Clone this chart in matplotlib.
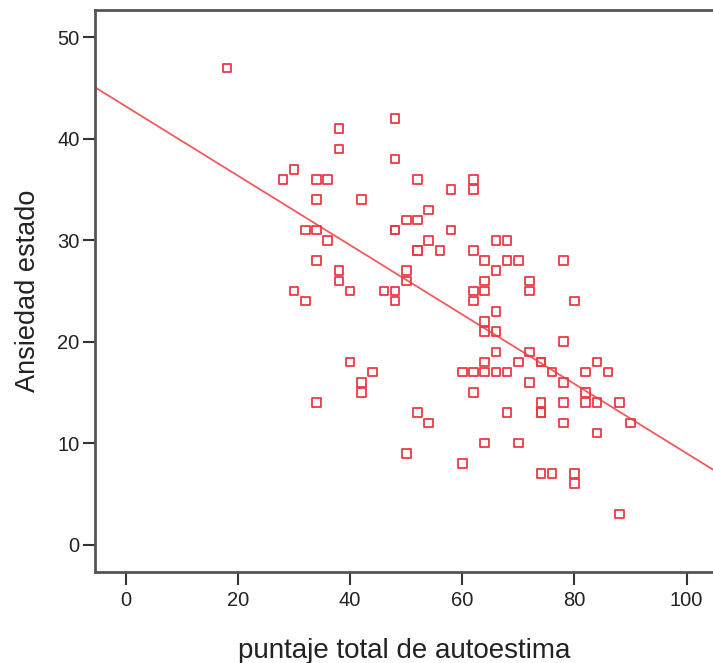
import matplotlib
matplotlib.use("Agg")
import matplotlib.pyplot as plt

# puntaje total de autoestima (x) y Ansiedad estado (y)
autoestima = [18, 38, 48, 38, 48, 30, 28, 34, 36, 52, 58, 34, 42, 54, 50, 52,
              48, 48, 32, 34, 36, 58, 54, 56, 52, 52, 34, 38, 38, 50, 50, 30,
              40, 32, 46, 48, 48, 40, 44, 42, 42, 34, 52, 54, 50,
              62, 62, 66, 68, 62, 64, 68, 70, 78, 66, 64, 72, 62, 64, 72, 62,
              80, 66, 64, 64, 66, 78, 66, 72, 64, 70, 74, 74, 84, 60, 62, 64,
              66, 68, 76, 82, 86, 72, 78, 62, 82, 74, 78, 82, 84, 88, 68, 74,
              74, 78, 90, 84, 64, 70, 60, 74, 76, 80, 80, 88]
ansiedad = [47, 41, 42, 39, 38, 37, 36, 36, 36, 36, 35, 34, 34, 33, 32, 32,
            31, 31, 31, 31, 30, 31, 30, 29, 29, 29, 28, 27, 26, 27, 26, 25,
            25, 24, 25, 25, 24, 18, 17, 16, 15, 14, 13, 12, 9,
            36, 35, 30, 30, 29, 28, 28, 28, 28, 27, 26, 26, 25, 25, 25, 24,
            24, 23, 22, 21, 21, 20, 19, 19, 18, 18, 18, 18, 18, 17, 17, 17,
            17, 17, 17, 17, 17, 16, 16, 15, 15, 14, 14, 14, 14, 14, 13, 13,
            13, 12, 12, 11, 10, 10, 8, 7, 7, 7, 6, 3]

# recta de regresion
intercepto = 43.2
pendiente = -0.342

fig = plt.figure(figsize=(7.13, 6.63), dpi=100)
ax = fig.add_axes([95 / 713, 1 - 572 / 663, 1 - 95 / 713, 562 / 663])

ax.scatter(autoestima, ansiedad, marker='s', s=38, facecolors='none',
           edgecolors='#ec3a44', linewidths=1.3, zorder=3)

x_min, x_max = -5.5, 104.7
ax.plot([x_min, x_max], [intercepto + pendiente * x_min, intercepto + pendiente * x_max],
        color='#f25a5e', linewidth=1.3, zorder=2)

ax.set_xlim(x_min, x_max)
ax.set_ylim(-2.7, 52.7)
ax.set_xticks(range(0, 101, 20))
ax.set_yticks(range(0, 51, 10))

for lado in ['left', 'bottom', 'top']:
    ax.spines[lado].set_color('#555555')
    ax.spines[lado].set_linewidth(2)
ax.spines['right'].set_visible(False)

ax.tick_params(direction='out', length=9, width=1.5, color='#333333',
               labelsize=14.5, labelcolor='#222222', pad=2)
ax.tick_params(axis='x', pad=5)
for lbl in ax.get_xticklabels() + ax.get_yticklabels():
    lbl.set_family('Liberation Sans')

ax.set_xlabel('puntaje total de autoestima', fontsize=20, family='Liberation Sans',
              color='#222222', labelpad=20)
ax.set_ylabel('Ansiedad estado', fontsize=19.5, family='Liberation Sans',
              color='#222222', labelpad=12)

fig.savefig('out.png', dpi=100)
